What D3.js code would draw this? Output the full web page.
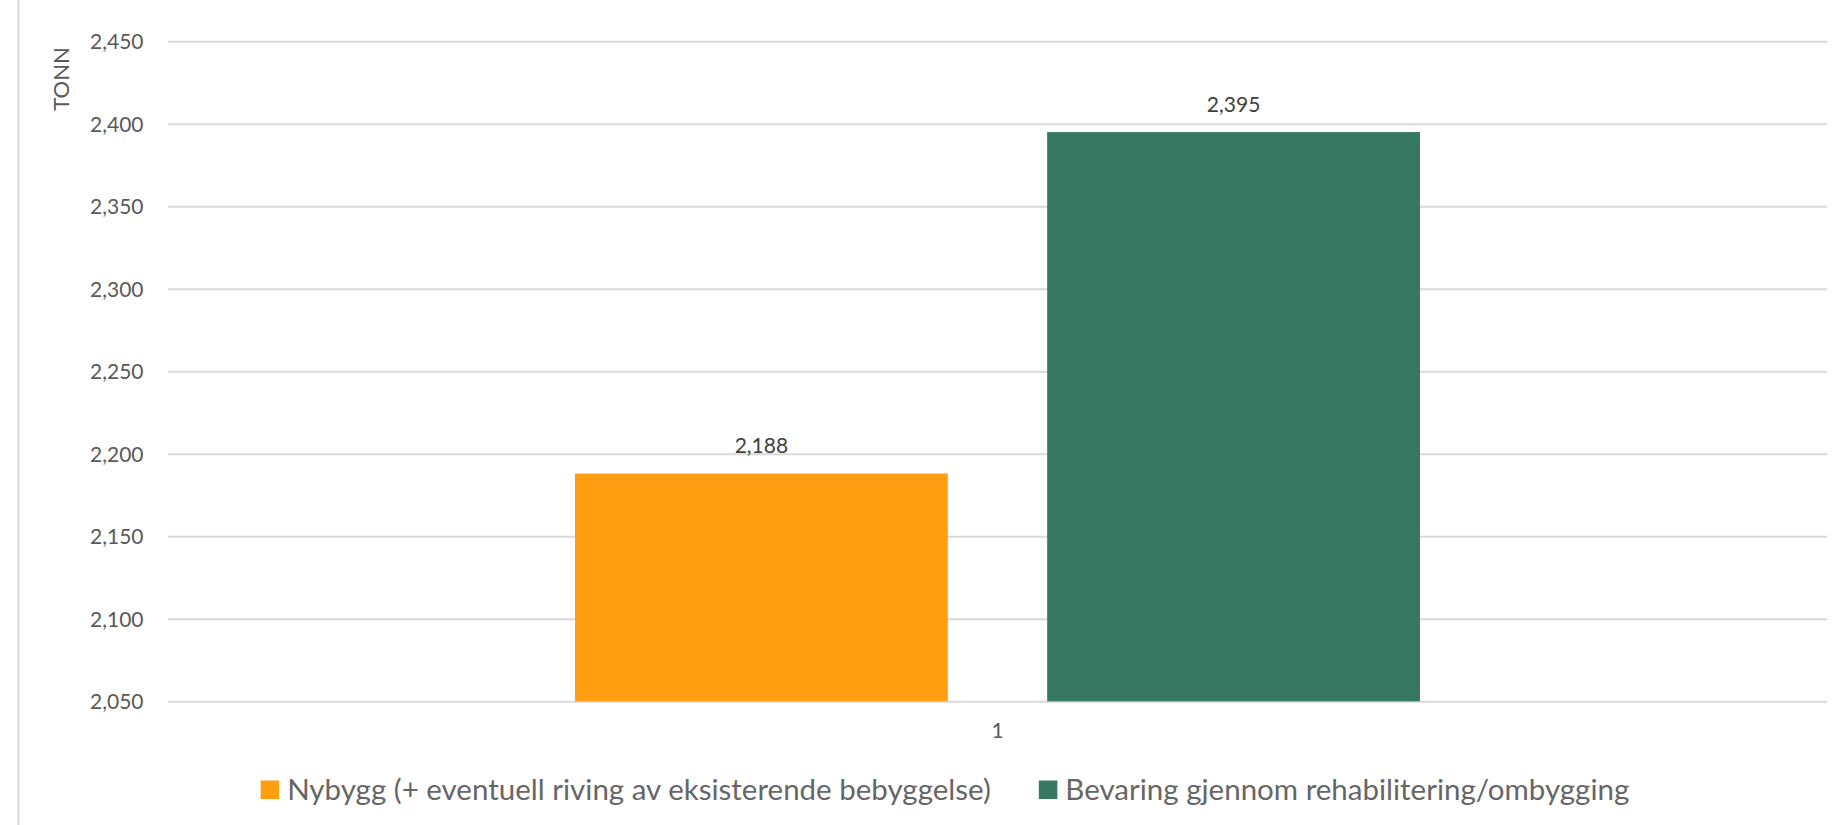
<!DOCTYPE html>
<html>
<head>
<meta charset="utf-8">
<script src="https://cdn.jsdelivr.net/npm/d3@7"></script>
<style>
  html, body { margin: 0; padding: 0; background: #ffffff; }
  svg { display: block; }
  text { font-family: Lato, "Open Sans", sans-serif; }
</style>
</head>
<body>
<svg id="chart" width="1848" height="825"></svg>
<script>
// Chart data
const categories = ["1"];
const seriesNames = [
  "Nybygg (+ eventuell riving av eksisterende bebyggelse)",
  "Bevaring gjennom rehabilitering/ombygging"
];
const seriesValues = [2188, 2395];
const seriesColors = ["#FF9E10", "#377863"];
const yTicks = [2050, 2100, 2150, 2200, 2250, 2300, 2350, 2400, 2450];
const yDomain = [2050, 2450];
const yTitle = "TONN";

const svg = d3.select("#chart");
const W = 1848, H = 825;

const plot = { left: 168, right: 1827, top: 41.3, bottom: 701.3 };

// chart-area frame edge
svg.append("line")
  .attr("x1", 18.5).attr("x2", 18.5)
  .attr("y1", 0).attr("y2", H)
  .attr("stroke", "#d9d9d9").attr("stroke-width", 2);

const y = d3.scaleLinear().domain(yDomain).range([plot.bottom, plot.top]);
const x0 = d3.scaleBand().domain(categories).range([plot.left, plot.right]).padding(0);
const x1 = d3.scaleBand().domain(seriesNames).range([0, x0.bandwidth()])
  .paddingInner(0.2104).paddingOuter(0.862);

// gridlines and value axis labels
const yAxis = d3.axisLeft(y).tickValues(yTicks).tickSize(0).tickPadding(0)
  .tickFormat(d3.format(","));
const gy = svg.append("g").attr("transform", `translate(${plot.left},0)`).call(yAxis);
gy.select(".domain").remove();
gy.selectAll(".tick line")
  .attr("x2", plot.right - plot.left)
  .attr("stroke", "#d9d9d9").attr("stroke-width", 2);
gy.selectAll(".tick text")
  .attr("x", -24.5)
  .attr("dy", "0.35em")
  .attr("fill", "#595959")
  .style("font-size", "21px")
  .style("font-family", "Lato, sans-serif");

// y-axis title
svg.append("text")
  .attr("transform", `translate(61,79) rotate(-90)`)
  .attr("text-anchor", "middle")
  .attr("dy", "0.35em")
  .attr("fill", "#595959")
  .style("font-size", "22px")
  .text(yTitle);

// bars
const rows = seriesNames.map((name, i) => ({ cat: categories[0], name, value: seriesValues[i], color: seriesColors[i] }));
const bars = svg.append("g");
bars.selectAll("rect").data(rows).enter().append("rect")
  .attr("x", d => x0(d.cat) + x1(d.name))
  .attr("width", x1.bandwidth())
  .attr("y", d => y(d.value))
  .attr("height", d => y(yDomain[0]) - y(d.value))
  .attr("fill", d => d.color);

// data labels
bars.selectAll("text").data(rows).enter().append("text")
  .attr("x", d => x0(d.cat) + x1(d.name) + x1.bandwidth() / 2)
  .attr("y", d => y(d.value) - 27.5)
  .attr("dy", "0.35em")
  .attr("text-anchor", "middle")
  .attr("fill", "#404040")
  .style("font-size", "21px")
  .text(d => d3.format(",")(d.value));

// category axis
const xAxis = d3.axisBottom(x0).tickSize(0).tickPadding(0);
const gx = svg.append("g").attr("transform", `translate(0,${plot.bottom})`).call(xAxis);
gx.select(".domain").remove();
gx.selectAll(".tick text")
  .attr("y", 29.5)
  .attr("dy", "0.35em")
  .attr("fill", "#595959")
  .style("font-size", "21px")
  .style("font-family", "Lato, sans-serif");

// legend
const legend = svg.append("g");
const items = legend.selectAll("g").data(rows).enter().append("g");
items.append("rect")
  .attr("width", 18.5).attr("height", 18.5)
  .attr("y", 780.5)
  .attr("fill", d => d.color);
items.append("text")
  .attr("x", 26.5)
  .attr("y", 789.5)
  .attr("dy", "0.35em")
  .attr("fill", "#666666")
  .style("font-size", "29.5px")
  .text(d => d.name);
let cursor = 0;
const positions = [];
const legendGap = 48;
items.each(function() {
  const tw = d3.select(this).select("text").node().getComputedTextLength();
  positions.push(cursor);
  cursor += 26.5 + tw + legendGap;
});
const totalW = cursor - legendGap;
const startX = 945 - totalW / 2;
items.attr("transform", (d, i) => `translate(${startX + positions[i]},0)`);
</script>
</body>
</html>
